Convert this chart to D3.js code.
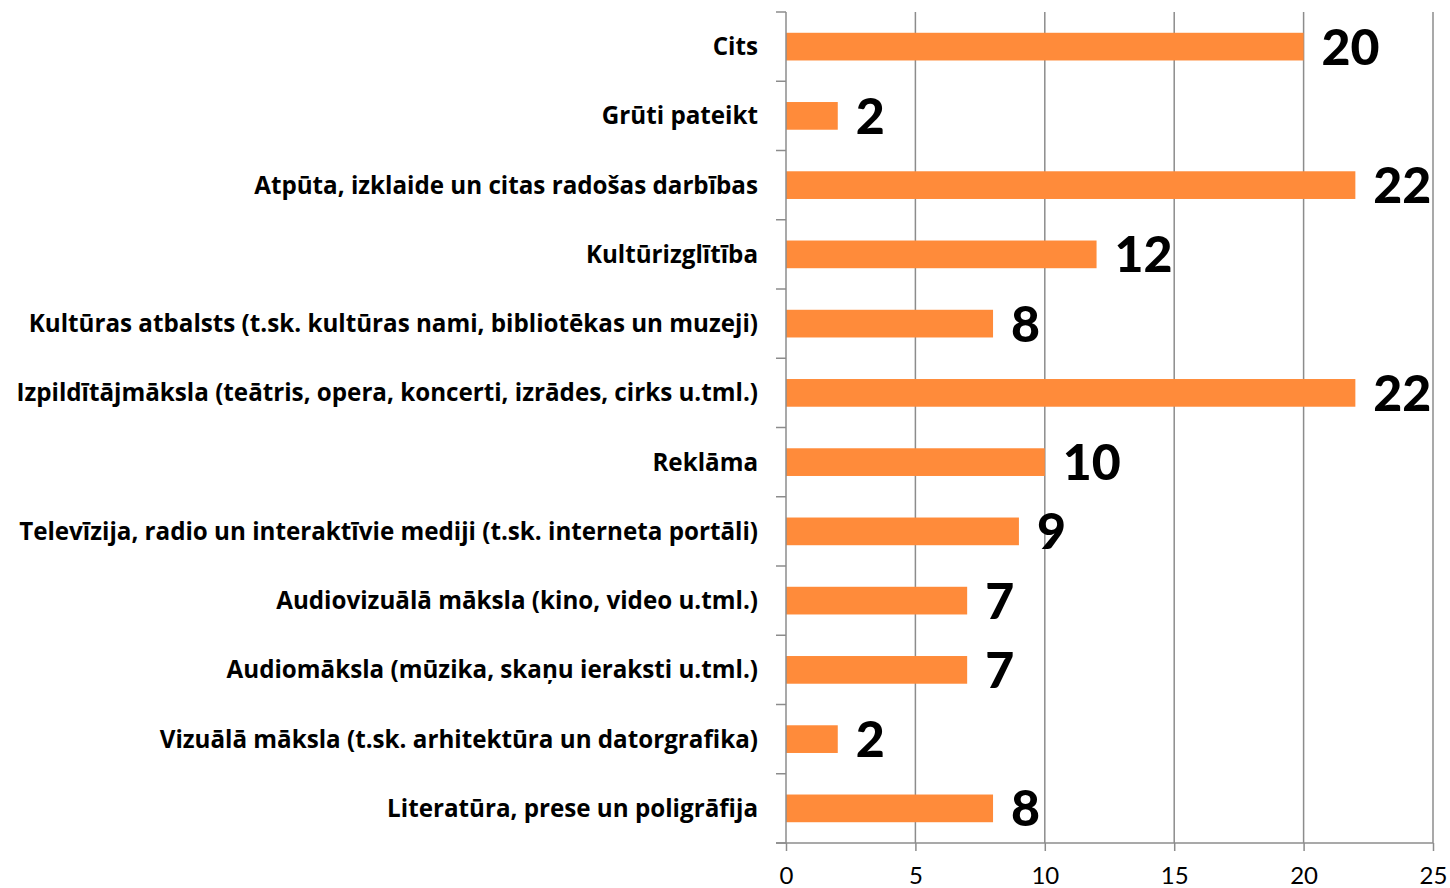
<!DOCTYPE html>
<html lang="lv">
<head>
  <meta charset="UTF-8">
  <title>Nozares</title>
  <script src="https://d3js.org/d3.v7.min.js"></script>
  <style>
    body { margin: 0; background: #fff; }
    svg { display: block; }
    text { font-variant-ligatures: none; }
  </style>
</head>
<body>
  <div id="chart"></div>
  <script>
    // categories from top to bottom
    const categories = [
      "Cits",
      "Grūti pateikt",
      "Atpūta, izklaide un citas radošas darbības",
      "Kultūrizglītība",
      "Kultūras atbalsts (t.sk. kultūras nami, bibliotēkas un muzeji)",
      "Izpildītājmāksla (teātris, opera, koncerti, izrādes, cirks u.tml.)",
      "Reklāma",
      "Televīzija, radio un interaktīvie mediji (t.sk. interneta portāli)",
      "Audiovizuālā māksla (kino, video u.tml.)",
      "Audiomāksla (mūzika, skaņu ieraksti u.tml.)",
      "Vizuālā māksla (t.sk. arhitektūra un datorgrafika)",
      "Literatūra, prese un poligrāfija"
    ];
    const values = [20, 2, 22, 12, 8, 22, 10, 9, 7, 7, 2, 8];
    const xTicks = [0, 5, 10, 15, 20, 25];

    const width = 1450, height = 888;
    const margin = { top: 12, right: 17, bottom: 45, left: 786 };

    const svg = d3.select("#chart").append("svg")
      .attr("width", width)
      .attr("height", height);

    const x = d3.scaleLinear()
      .domain([0, 25])
      .range([margin.left, width - margin.right]);

    const y = d3.scaleBand()
      .domain(categories)
      .range([margin.top, height - margin.bottom])
      .paddingInner(0.6)
      .paddingOuter(0.3);

    const gridColor = "#8c8c8c";

    // vertical gridlines
    svg.append("g")
      .selectAll("line")
      .data(xTicks.slice(1))
      .enter()
      .append("line")
      .attr("x1", d => x(d))
      .attr("x2", d => x(d))
      .attr("y1", margin.top)
      .attr("y2", height - margin.bottom)
      .attr("stroke", gridColor)
      .attr("stroke-width", 1.5);

    // bars
    svg.append("g")
      .selectAll("rect")
      .data(values)
      .enter()
      .append("rect")
      .attr("x", x(0))
      .attr("y", (d, i) => y(categories[i]))
      .attr("width", d => x(d) - x(0))
      .attr("height", y.bandwidth())
      .attr("fill", "#ff8b3a");

    // value labels
    svg.append("g")
      .selectAll("text")
      .data(values)
      .enter()
      .append("text")
      .attr("x", d => x(d) + 18)
      .attr("y", (d, i) => y(categories[i]) + y.bandwidth() / 2)
      .attr("dy", "0.36em")
      .attr("font-family", "Lato, sans-serif")
      .attr("font-weight", 900)
      .attr("font-size", 50)
      .attr("fill", "#000")
      .text(d => d);

    // y axis: line with ticks at band boundaries
    const step = y.step();
    const bounds = d3.range(categories.length + 1).map(i => margin.top + i * step);
    const yAxis = svg.append("g");
    yAxis.append("line")
      .attr("x1", x(0)).attr("x2", x(0))
      .attr("y1", margin.top).attr("y2", height - margin.bottom)
      .attr("stroke", gridColor)
      .attr("stroke-width", 1.5);
    yAxis.selectAll(".tk")
      .data(bounds)
      .enter()
      .append("line")
      .attr("x1", x(0) - 10).attr("x2", x(0))
      .attr("y1", d => d).attr("y2", d => d)
      .attr("stroke", gridColor)
      .attr("stroke-width", 1.5);

    // category labels
    svg.append("g")
      .selectAll("text")
      .data(categories)
      .enter()
      .append("text")
      .attr("x", x(0) - 28)
      .attr("y", d => y(d) + y.bandwidth() / 2)
      .attr("dy", "0.35em")
      .attr("text-anchor", "end")
      .attr("font-family", "'Open Sans', sans-serif")
      .attr("font-weight", 700)
      .attr("font-size", 24.2)
      .attr("fill", "#000")
      .text(d => d);

    // x axis
    const xAxis = d3.axisBottom(x)
      .tickValues(xTicks)
      .tickSize(8)
      .tickSizeOuter(0);
    const gx = svg.append("g")
      .attr("transform", `translate(0, ${height - margin.bottom})`)
      .call(xAxis);
    gx.select(".domain")
      .attr("stroke", gridColor)
      .attr("stroke-width", 1.5)
      .attr("d", `M${x(0) - 10},0H${x(25)}`);
    gx.selectAll(".tick line")
      .attr("stroke", gridColor)
      .attr("stroke-width", 1.5);
    gx.selectAll(".tick text")
      .attr("y", 24)
      .attr("dy", "0.71em")
      .attr("font-family", "Lato, sans-serif")
      .attr("font-size", 24)
      .attr("fill", "#000");
  </script>
</body>
</html>
